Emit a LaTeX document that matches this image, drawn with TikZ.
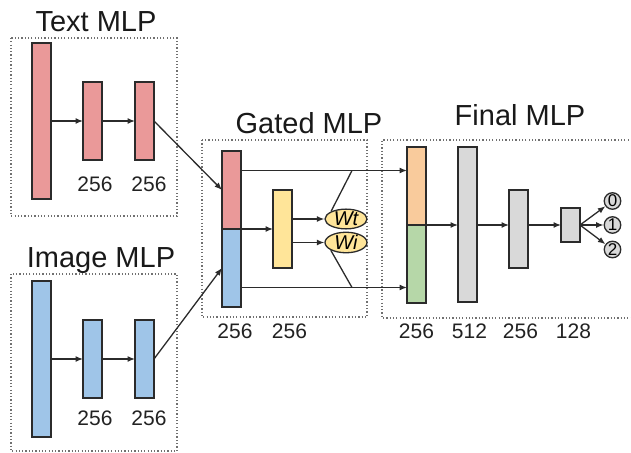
\documentclass[tikz,border=0pt]{standalone}
\usepackage{fontspec}
\setmainfont{Liberation Sans}
\usetikzlibrary{arrows.meta,shapes.geometric,calc}

\definecolor{layerred}{HTML}{EA9999}
\definecolor{layerblue}{HTML}{9FC5E8}
\definecolor{layeryellow}{HTML}{FFE599}
\definecolor{layerorange}{HTML}{F9CB9C}
\definecolor{layergreen}{HTML}{B6D7A8}
\definecolor{layergray}{HTML}{D9D9D9}
\definecolor{edgecol}{HTML}{2B2B2B}
\definecolor{framecol}{HTML}{707070}
\definecolor{labelcol}{HTML}{222222}

\tikzset{
  layer/.style={draw=edgecol, line width=1.3pt, inner sep=0pt, outer sep=0pt,
    minimum width=19pt},
  wide/.style={layer, minimum height=156pt},
  half/.style={layer, minimum height=78pt},
  frame/.style={draw=framecol, line width=1.2pt, dash pattern=on 1.2pt off 2.1pt},
  title/.style={font=\fontsize{29}{34}\selectfont, text=black!90, anchor=base, inner sep=0pt},
  size/.style={font=\fontsize{21}{25}\selectfont, text=labelcol, inner sep=0pt},
  conn/.style={draw=edgecol, line width=1.3pt},
  arrow/.style={conn, -{Latex[length=7.5pt,width=6pt]}},
  gate/.style={ellipse, draw=edgecol, line width=1.3pt, fill=layeryellow,
    minimum width=42pt, minimum height=18.5pt, inner sep=0pt,
    font=\fontsize{20}{20}\selectfont\itshape},
  cls/.style={circle, draw=edgecol, line width=1.3pt, fill=layergray,
    minimum size=16.5pt, inner sep=0pt, font=\fontsize{17}{17}\selectfont},
}

\begin{document}
\begin{tikzpicture}[x=1pt, y=-1pt]
\useasboundingbox (0,0) rectangle (631,452);

% frames around the sub-networks
\draw[frame] (11,38) rectangle (177,216);
\draw[frame] (11,274) rectangle (177,451);
\draw[frame] (202,140) rectangle (367,317);
\draw[frame] (632,140) -- (382,140) -- (382,318) -- (632,318);

% titles
\node[title] (ttext)  at (96,32)   {Text MLP};
\node[title] (timage) at (101,267) {Image MLP};
\node[title] (tgated) at (309,133) {Gated MLP};
\node[title] (tfinal) at (520,125) {Final MLP};

% text branch
\node[wide, fill=layerred] (t1) at (41.5,121) {};
\node[half, fill=layerred] (t2) at (92.5,121) {};
\node[half, fill=layerred] (t3) at (144.5,121) {};
\node[size] (lt2) at (95,184.5) {256};
\node[size] (lt3) at (149,184.5) {256};

% image branch
\node[wide, fill=layerblue] (i1) at (41.5,359) {};
\node[half, fill=layerblue] (i2) at (92.5,359) {};
\node[half, fill=layerblue] (i3) at (144.5,359) {};
\node[size] (li2) at (95,418.5) {256};
\node[size] (li3) at (149,418.5) {256};

% gated block
\node[half, fill=layerred]  (gtop) at (231.5,190) {};
\node[half, fill=layerblue] (gbot) at (231.5,268) {};
\node[half, fill=layeryellow] (g2) at (282.5,229) {};
\node[gate] (wt) at (346,219) {Wt};
\node[gate] (wi) at (346,242.5) {Wi};
\node[size] (lg1) at (235,331) {256};
\node[size] (lg2) at (289.5,331) {256};
\coordinate (jt) at (352,170.5);
\coordinate (jb) at (352,287.5);

% final block
\node[half, fill=layerorange] (ftop) at (416.5,186) {};
\node[half, fill=layergreen]  (fbot) at (416.5,264) {};
\node[layer, minimum height=155pt, fill=layergray] (f2) at (467.5,224.5) {};
\node[half, fill=layergray] (f3) at (518.5,229) {};
\node[layer, minimum height=34pt, fill=layergray] (f4) at (570.5,225) {};
\node[cls] (c0) at (612.5,201) {0};
\node[cls] (c1) at (612.5,225) {1};
\node[cls] (c2) at (612.5,249.5) {2};
\node[size] (lf1) at (416.5,331) {256};
\node[size] (lf2) at (469.5,331) {512};
\node[size] (lf3) at (520.5,331) {256};
\node[size] (lf4) at (573.5,331) {128};

% connectors inside the branches
\draw[arrow] (t1.east) -- (t2.west);
\draw[arrow] (t2.east) -- (t3.west);
\draw[arrow] (i1.east) -- (i2.west);
\draw[arrow] (i2.east) -- (i3.west);

% branches into the concatenation
\draw[arrow] (t3.east) -- (gtop.west);
\draw[arrow] (i3.east) -- (gbot.west);

% gating
\draw[arrow] (gtop.south east) -- (g2.west);
\draw[arrow] (g2.east |- wt.west) -- (wt.west);
\draw[arrow] (g2.east |- wi.west) -- (wi.west);
\coordinate (st) at ($(gtop.north east)!0.25!(gtop.south east)$);
\coordinate (sb) at ($(gbot.north east)!0.75!(gbot.south east)$);
\draw[arrow] (st) -- (ftop.west |- st);
\draw[arrow] (sb) -- (fbot.west |- sb);
\draw[conn] (wt.153) -- (jt);
\draw[conn] (wi.207) -- (jb);

% final MLP
\draw[arrow] (ftop.south east) -- (f2.west |- ftop.south east);
\draw[arrow] (f2.east |- f4.west) -- (f3.west |- f4.west);
\draw[arrow] (f3.east |- f4.west) -- (f4.west);
\draw[arrow] (f4.east) -- (c0);
\draw[arrow] (f4.east) -- (c1);
\draw[arrow] (f4.east) -- (c2);
\end{tikzpicture}
\end{document}
